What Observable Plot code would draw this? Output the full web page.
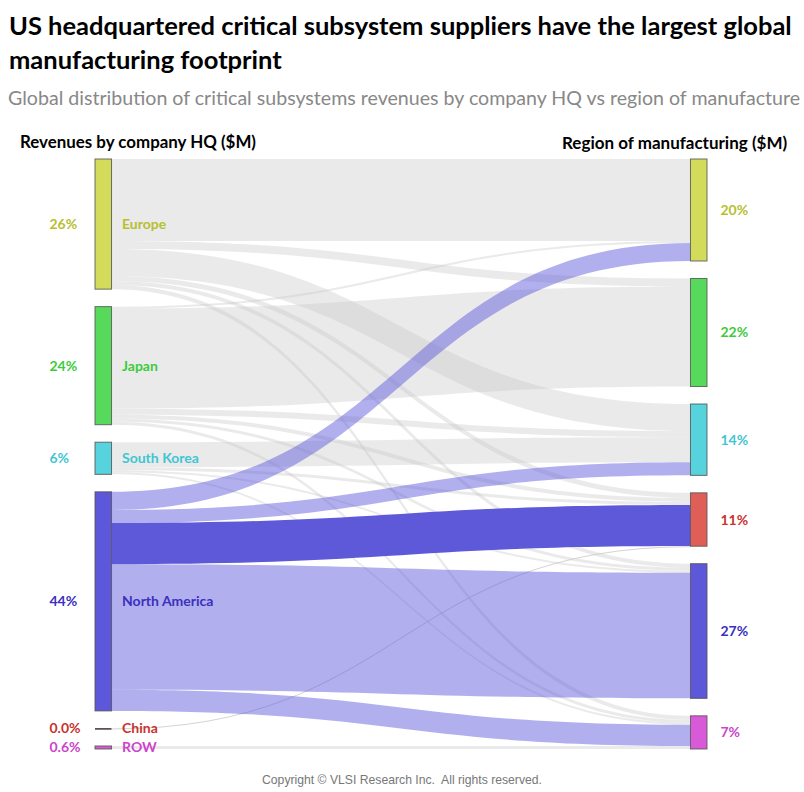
<!DOCTYPE html>
<html>
<head>
<meta charset="utf-8">
<script src="https://cdn.jsdelivr.net/npm/d3@7"></script>
<script src="https://cdn.jsdelivr.net/npm/@observablehq/plot@0.6"></script>
<style>
  body { margin: 0; background: #fff; }
  #wrap { position: relative; width: 804px; height: 792px; overflow: hidden; font-family: Lato, "Open Sans", sans-serif; }
  .abs { position: absolute; white-space: pre; line-height: 1; }
</style>
</head>
<body>
<div id="wrap">
  <div class="abs" style="left:9px;top:8px;font-size:25.5px;font-weight:bold;line-height:34px;color:#000">US headquartered critical subsystem suppliers have the largest global
manufacturing footprint</div>
  <div class="abs" style="left:8px;top:88px;font-size:19.6px;color:#888">Global distribution of critical subsystems revenues by company HQ vs region of manufacture</div>
  <div class="abs" style="left:20px;top:134px;font-size:16.9px;font-weight:bold;color:#000">Revenues by company HQ ($M)</div>
  <div class="abs" style="left:562px;top:134px;font-size:17px;font-weight:bold;color:#000">Region of manufacturing ($M)</div>
  <div id="chart" style="position:absolute;left:0;top:150px"></div>
  <div class="abs" style="left:0;width:804px;top:774px;text-align:center;font-family:'Liberation Sans',Arial,sans-serif;font-size:12.2px;color:#777">Copyright © VLSI Research Inc.  All rights reserved.</div>
</div>
<script>
// ---- data (share of total critical subsystem revenues, %) ----
const sources = ["Europe", "Japan", "South Korea", "North America", "China", "ROW"];
const targets = ["Europe", "Japan", "South Korea", "China", "North America", "ROW"];
const sourceShareLabels = ["26%", "24%", "6%", "44%", "0.0%", "0.6%"];
const targetShareLabels = ["20%", "22%", "14%", "11%", "27%", "7%"];
// flows by HQ (row) into region of manufacture, in target order
const fromEurope       = [16.3, 1.6, 5.4, 1.0, 0.8, 0.8];
const fromJapan        = [0.4, 19.9, 1.2, 0.8, 0.6, 0.6];
const fromSouthKorea   = [0, 0, 5.0, 0.6, 0.4, 0.4];
const fromNorthAmerica = [3.6, 0, 2.6, 8.2, 25.0, 4.2];
const fromChina        = [0, 0, 0, 0.02, 0, 0];
const fromROW          = [0, 0, 0, 0, 0, 0.6];

// ---- styles ----
const nodeFill = {"Europe": "#d3dc5a", "Japan": "#57da5c", "South Korea": "#56d3dc", "North America": "#5c58d9", "China": "#df5f58", "ROW": "#d85ad8"};
const textFill = {"Europe": "#b6bf30", "Japan": "#3ccb3c", "South Korea": "#3fc6d2", "North America": "#3a2fbf", "China": "#c8332e", "ROW": "#cc45cc"};

// ---- layout (in data units) ----
const flows = [fromEurope, fromJapan, fromSouthKorea, fromNorthAmerica, fromChina, fromROW];
const gap = 3.48, NW = 2.7;
const srcTot = flows.map(r => d3.sum(r));
const tgtTot = targets.map((_, j) => d3.sum(flows, r => r[j]));
const T = Math.max(d3.sum(srcTot), d3.sum(tgtTot)) + gap * (sources.length - 1);
function stackNodes(names, totals, shares, side) {
  let y = 0;
  return names.map((name, i) => {
    const n = {name, side, y0: y, y1: y + totals[i], share: shares[i], cursor: y,
      x1: side === "left" ? 0 : 100 - NW, x2: side === "left" ? NW : 100};
    y += totals[i] + gap;
    return n;
  });
}
const srcNodes = stackNodes(sources, srcTot, sourceShareLabels, "left");
const tgtNodes = stackNodes(targets, tgtTot, targetShareLabels, "right");
const links = [];
flows.forEach((row, i) => row.forEach((v, j) => {
  if (!(v > 0)) return;
  const s = srcNodes[i], t = tgtNodes[j];
  links.push({id: i + "-" + j, src: sources[i], tgt: targets[j], v, s0: s.cursor, t0: t.cursor});
  s.cursor += v; t.cursor += v;
}));
const rows = links.flatMap(l => [
  {id: l.id, l, x: NW, top: l.s0, bottom: l.s0 + l.v, mid: l.s0 + l.v / 2},
  {id: l.id, l, x: 100 - NW, top: l.t0, bottom: l.t0 + l.v, mid: l.t0 + l.v / 2}
]);
const grayRows = rows.filter(r => r.l.src !== "North America" && r.l.v >= 0.1);
const tinyRows = rows.filter(r => r.l.v < 0.1);
const naRows = rows.filter(r => r.l.src === "North America" && r.l.tgt !== "China");
const naHiRows = rows.filter(r => r.l.src === "North America" && r.l.tgt === "China");
const nodes = [...srcNodes, ...tgtNodes];
const solidNodes = nodes.filter(n => n.y1 - n.y0 >= 0.1);
const flatNodes = nodes.filter(n => n.y1 - n.y0 < 0.1);

const chart = Plot.plot({
  width: 804, height: 610,
  marginTop: 9, marginBottom: 11, marginLeft: 95, marginRight: 97,
  x: {domain: [0, 100], axis: null},
  y: {domain: [0, T], reverse: true, axis: null},
  color: {type: "identity"},
  style: {fontFamily: "Lato, 'Open Sans', sans-serif", background: "transparent", overflow: "visible"},
  marks: [
    Plot.area(grayRows, {x1: "x", y1: "top", y2: "bottom", z: "id", curve: "bump-x", fill: "#c6c6c6", fillOpacity: 0.37}),
    Plot.line(tinyRows, {x: "x", y: "mid", z: "id", curve: "bump-x", stroke: "#c8c8c8", strokeWidth: 0.8}),
    Plot.area(naRows, {x1: "x", y1: "top", y2: "bottom", z: "id", curve: "bump-x", fill: "#5c58d9", fillOpacity: 0.48}),
    Plot.area(naHiRows, {x1: "x", y1: "top", y2: "bottom", z: "id", curve: "bump-x", fill: "#5b56d8", fillOpacity: 0.98}),
    Plot.rect(solidNodes, {x1: "x1", x2: "x2", y1: "y0", y2: "y1", fill: d => nodeFill[d.name], stroke: "#555", strokeOpacity: 0.85, strokeWidth: 1}),
    Plot.ruleY(flatNodes, {y: "y0", x1: "x1", x2: "x2", stroke: "#4b3f3f", strokeWidth: 1.6}),
    Plot.text(srcNodes, {x: "x2", y: d => (d.y0 + d.y1) / 2, text: "name", textAnchor: "start", dx: 10, fill: d => textFill[d.name], fontWeight: "bold", fontSize: 14}),
    Plot.text(srcNodes, {x: "x1", y: d => (d.y0 + d.y1) / 2, text: "share", textAnchor: "start", dx: -46, fill: d => textFill[d.name], fontWeight: "bold", fontSize: 14}),
    Plot.text(tgtNodes, {x: "x2", y: d => (d.y0 + d.y1) / 2, text: "share", textAnchor: "start", dx: 13, fill: d => textFill[d.name], fontWeight: "bold", fontSize: 14})
  ]
});
document.getElementById("chart").appendChild(chart);
</script>
</body>
</html>
